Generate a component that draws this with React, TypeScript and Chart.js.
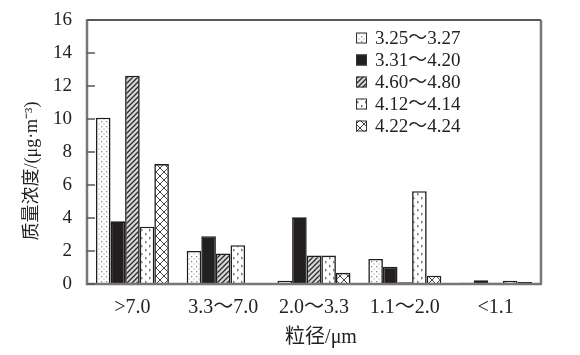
import React, { useEffect, useRef } from 'react';
import { Chart, registerables } from 'chart.js';

Chart.register(...registerables);

const categories = ['>7.0', '3.3～7.0', '2.0～3.3', '1.1～2.0', '<1.1'];
const seriesLabels = ['3.25～3.27', '3.31～4.20', '4.60～4.80', '4.12～4.14', '4.22～4.24'];
const series1 = [10.08, 2.0, 0.2, 1.52, 0.08];
const series2 = [3.8, 2.9, 4.04, 1.05, 0.22];
const series3 = [12.62, 1.85, 1.72, 0.1, 0.08];
const series4 = [3.47, 2.35, 1.72, 5.62, 0.2];
const series5 = [7.27, null, 0.68, 0.5, 0.12];
const yTickValues = [0, 2, 4, 6, 8, 10, 12, 14, 16];
const xTitle = '粒径/μm';
const yTitle = '质量浓度/(μg·m⁻³)';

const FONT = "'Liberation Serif', 'Noto Sans CJK SC', serif";

function makePattern(kind: number): CanvasPattern | string {
  if (kind === 1) return '#231f20';
  const c = document.createElement('canvas');
  const ctx = c.getContext('2d')!;
  if (kind === 0) {
    c.width = 5; c.height = 5;
    ctx.fillStyle = '#fff'; ctx.fillRect(0, 0, 5, 5);
    ctx.fillStyle = '#8a8a8a';
    ctx.fillRect(1, 1, 1.3, 1.3);
    ctx.fillRect(3.5, 3.5, 1, 1);
  } else if (kind === 2) {
    c.width = 5; c.height = 5;
    ctx.fillStyle = '#d8d8d8'; ctx.fillRect(0, 0, 5, 5);
    ctx.strokeStyle = '#2a2a2a'; ctx.lineWidth = 1.3;
    ctx.beginPath();
    ctx.moveTo(-1, 6); ctx.lineTo(6, -1);
    ctx.moveTo(-3, 3); ctx.lineTo(3, -3);
    ctx.moveTo(2, 8); ctx.lineTo(8, 2);
    ctx.stroke();
  } else if (kind === 3) {
    c.width = 8; c.height = 8;
    ctx.fillStyle = '#fff'; ctx.fillRect(0, 0, 8, 8);
    ctx.strokeStyle = '#555'; ctx.lineWidth = 1;
    ctx.beginPath();
    ctx.moveTo(1, 1); ctx.lineTo(2.5, 2.2); ctx.lineTo(1, 3.2);
    ctx.moveTo(5, 5); ctx.lineTo(6.5, 6.2); ctx.lineTo(5, 7.2);
    ctx.stroke();
  } else {
    c.width = 8; c.height = 8;
    ctx.fillStyle = '#fff'; ctx.fillRect(0, 0, 8, 8);
    ctx.strokeStyle = '#444'; ctx.lineWidth = 1;
    ctx.beginPath();
    ctx.moveTo(0, 8); ctx.lineTo(8, 0);
    ctx.moveTo(0, 0); ctx.lineTo(8, 8);
    ctx.stroke();
  }
  const p = ctx.createPattern(c, 'repeat');
  return p || '#fff';
}

export default function App() {
  const ref = useRef<HTMLCanvasElement | null>(null);
  useEffect(() => {
    document.body.style.margin = '0';
    const canvas = ref.current!;
    const fills = [0, 1, 2, 3, 4].map(makePattern);
    const values = [series1, series2, series3, series4, series5];

    const framePlugin = {
      id: 'frame',
      afterDraw(chart: any) {
        const { ctx, chartArea } = chart;
        const { left, right, top, bottom } = chartArea;
        ctx.save();
        ctx.strokeStyle = '#222';
        ctx.lineWidth = 1.5;
        ctx.beginPath();
        ctx.moveTo(left, top); ctx.lineTo(right, top);
        ctx.stroke();
        ctx.strokeStyle = '#777';
        ctx.lineWidth = 2.5;
        ctx.beginPath();
        ctx.moveTo(right, top); ctx.lineTo(right, bottom);
        ctx.moveTo(left, top - 0.7); ctx.lineTo(left, bottom);
        ctx.lineTo(right + 1, bottom);
        ctx.stroke();
        // inside tick marks
        const y = chart.scales.y;
        ctx.strokeStyle = '#555';
        ctx.lineWidth = 1.5;
        ctx.beginPath();
        yTickValues.forEach((v) => {
          const py = y.getPixelForValue(v);
          ctx.moveTo(left, py); ctx.lineTo(left + 8, py);
        });
        ctx.stroke();
        // legend
        ctx.font = `19px ${FONT}`;
        ctx.textBaseline = 'middle';
        ctx.textAlign = 'left';
        seriesLabels.forEach((lab, i) => {
          const cy = 38 + i * 22;
          const bx = 356, by = cy - 5.5;
          ctx.fillStyle = fills[i] as any;
          ctx.fillRect(bx, by, 11, 11);
          ctx.strokeStyle = '#333';
          ctx.lineWidth = 1;
          ctx.strokeRect(bx + 0.5, by + 0.5, 10, 10);
          ctx.fillStyle = '#222';
          ctx.fillText(lab, 375, cy + 1);
        });
        // titles
        ctx.font = `20px ${FONT}`;
        ctx.textAlign = 'center';
        ctx.fillText(xTitle, 321, 338);
        ctx.save();
        ctx.font = `18px ${FONT}`;
        ctx.translate(32, 171);
        ctx.rotate(-Math.PI / 2);
        ctx.fillText(yTitle, 0, 0);
        ctx.restore();
        ctx.restore();
      },
    };

    const chart = new Chart(canvas, {
      type: 'bar',
      data: {
        labels: categories,
        datasets: values.map((v, i) => ({
          label: seriesLabels[i],
          data: v,
          backgroundColor: fills[i] as any,
          borderColor: '#1e1e1e',
          borderWidth: 1.6,
          categoryPercentage: 0.804,
          barPercentage: 1,
        })),
      },
      options: {
        animation: false,
        responsive: false,
        events: [],
        layout: { padding: { top: 20, right: 39, left: 0, bottom: 0 } },
        plugins: { legend: { display: false }, tooltip: { enabled: false } },
        scales: {
          x: {
            grid: { display: false },
            border: { display: false },
            ticks: { font: { family: FONT, size: 20 }, color: '#222', padding: 4, maxRotation: 0, autoSkip: false },
            afterFit: (s: any) => { s.height = 71; },
          },
          y: {
            min: 0,
            max: 16,
            grid: { display: false },
            border: { display: false },
            afterBuildTicks: (s: any) => { s.ticks = yTickValues.map((v) => ({ value: v })); },
            ticks: { font: { family: FONT, size: 19 }, color: '#222', padding: 7 },
            afterFit: (s: any) => { s.width = 87; },
          },
        },
      },
      plugins: [framePlugin],
    } as any);
    return () => chart.destroy();
  }, []);
  return (
    <div style={{ width: 580, height: 355 }}>
      <canvas ref={ref} width={580} height={355} style={{ display: 'block' }} />
    </div>
  );
}
